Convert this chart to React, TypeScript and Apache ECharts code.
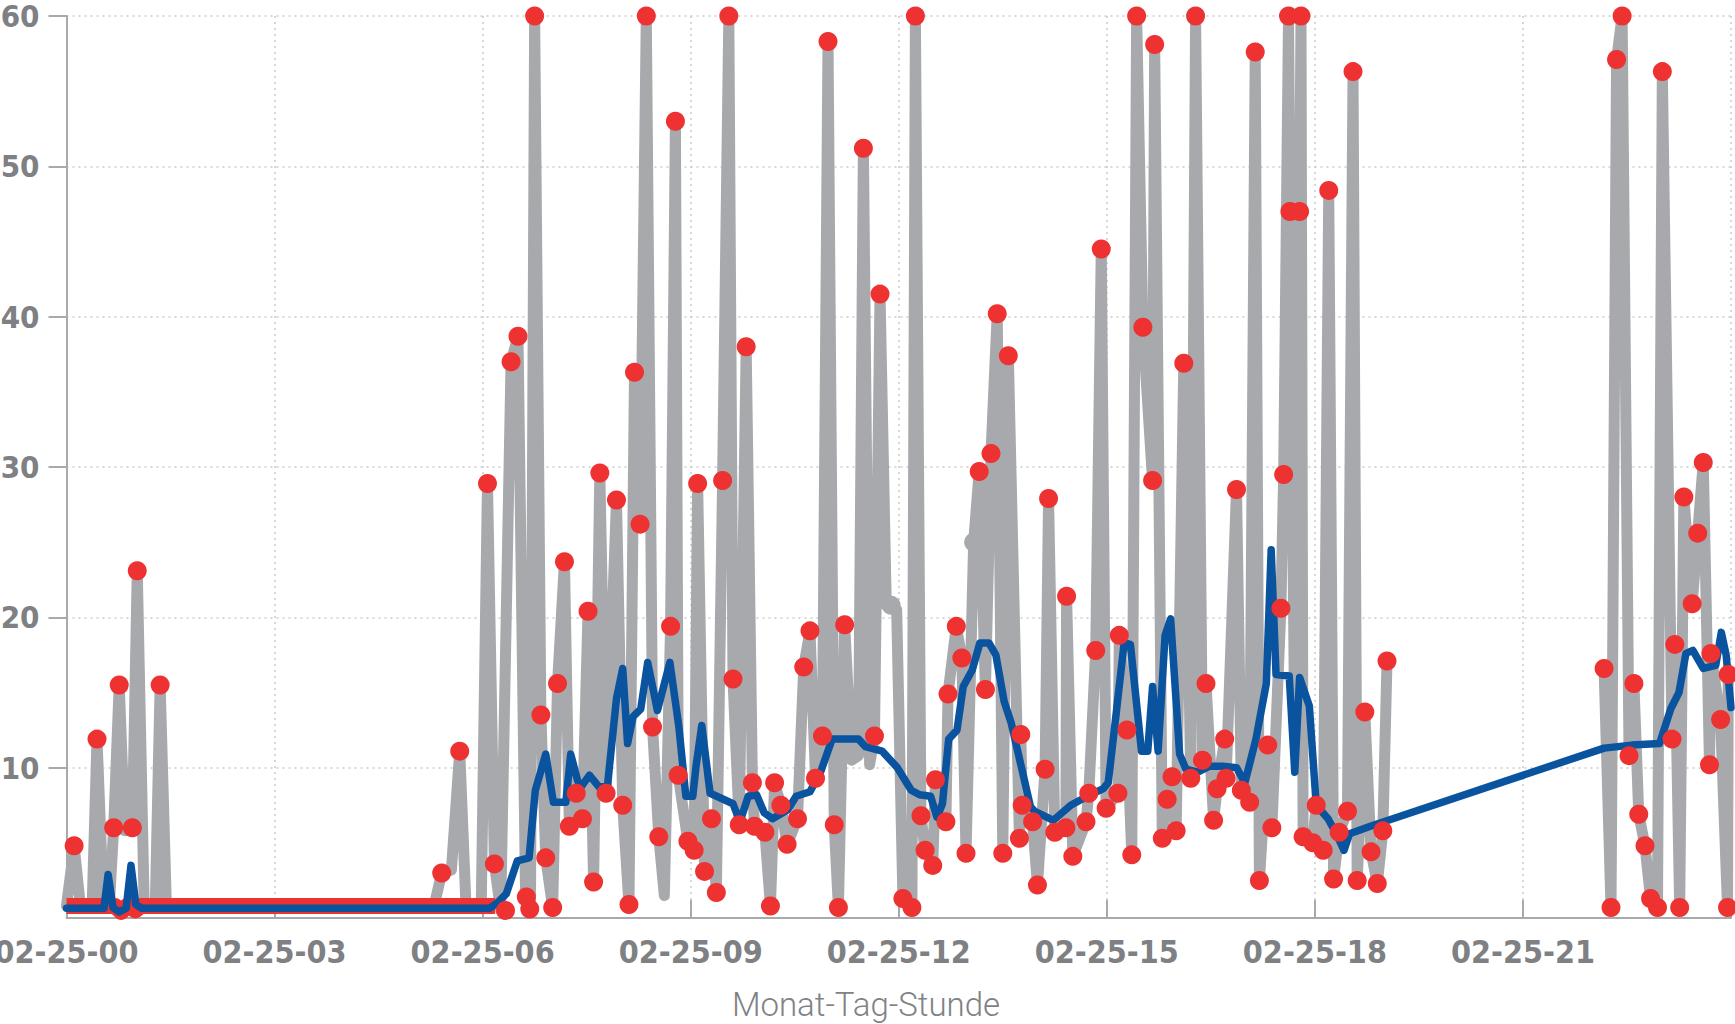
import React, { useEffect, useRef } from "react";
import * as echarts from "echarts";

// ---------- data ----------
const xTickLabels = ["02-25-00", "02-25-03", "02-25-06", "02-25-09", "02-25-12", "02-25-15", "02-25-18", "02-25-21"];
const xAxisName = "Monat-Tag-Stunde";

// gray measurement line (hour of day, value); null = gap
const grayHours = [
  0, 0.11, 0.2, 0.37, 0.44, 0.53, 0.62, 0.68, 0.76, 0.84, 0.95, 1.02, 1.12, 1.28, 1.35, 1.44,
  5.3, 5.41, 5.55, 5.67, 5.76, 5.98, 6.07, 6.17, 6.26, 6.41, 6.51, 6.62, 6.69, 6.75, 6.84, 6.91,
  7.01, 7.08, 7.18, 7.25, 7.35, 7.44, 7.52, 7.6, 7.69, 7.78, 7.93, 8.02, 8.11, 8.19, 8.27, 8.36,
  8.45, 8.54, 8.62, 8.71, 8.78, 8.82, 8.96, 9.05, 9.1, 9.2, 9.3, 9.37, 9.46, 9.55, 9.61, 9.7,
  9.8, 9.89, 9.92, 10.07, 10.15, 10.21, 10.3, 10.39, 10.54, 10.63, 10.72, 10.8, 10.9, 10.98,
  11.07, 11.13, 11.22, 11.32, 11.42, 11.49, 11.58, 11.65, 11.73, 11.82, 11.97, 12.06, 12.19,
  12.24, 12.32, 12.38, 12.49, 12.53, 12.68, 12.71, 12.83, 12.91, 12.97, 13.08, 13.16, 13.25,
  13.33, 13.42, 13.5, 13.58, 13.74, 13.76, 13.78, 13.93, 14.0, 14.11, 14.16, 14.25, 14.41,
  14.42, 14.51, 14.7, 14.74, 14.84, 14.92, 14.99, 15.16, 15.18, 15.29, 15.36, 15.43, 15.52,
  15.66, 15.69, 15.8, 15.87, 15.94, 16.0, 16.11, 16.21, 16.28, 16.38, 16.43, 16.54, 16.59,
  16.7, 16.72, 16.87, 16.94, 17.06, 17.14, 17.2, 17.32, 17.38, 17.51, 17.55, 17.62, 17.64,
  17.71, 17.78, 17.8, 17.83, 17.97, 18.02, 18.12, 18.2, 18.27, 18.35, 18.47, 18.55, 18.61,
  18.72, 18.81, 18.9, 18.98, 19.04, 20.5, 22.17, 22.27, 22.35, 22.43, 22.53, 22.6, 22.67,
  22.76, 22.84, 22.94, 23.01, 23.15, 23.19, 23.26, 23.32, 23.44, 23.52, 23.6, 23.69, 23.71,
  23.85, 23.95, 23.96,
];
const grayValues = [
  0.8, 4.8, 0.8, 0.8, 11.9, 1.2, 1.0, 6.0, 15.5, 5.8, 6.0, 23.1, 0.8, 0.8, 15.5, 0.8,
  0.8, 3.0, 3.2, 11.1, 0.8, 0.8, 28.9, 3.6, 0.5, 37.0, 38.7, 1.2, 0.6, 60, 13.5, 4.0,
  0.7, 15.6, 23.7, 6.1, 8.3, 6.6, 20.4, 2.4, 29.6, 8.3, 27.8, 7.5, 0.9, 36.3, 26.2, 60,
  12.7, 5.4, 1.5, 19.4, 53.0, 9.5, 5.1, 4.5, 28.9, 3.1, 6.6, 1.7, 29.1, 60, 15.9, 6.2,
  38.0, 9.0, 6.1, 5.7, 0.8, 9.0, 7.5, 4.9, 6.6, 16.7, 19.1, 9.3, 12.1, 58.3,
  6.2, 0.7, 19.5, 10.5, 10.8, 51.2, 10.2, 12.1, 41.5, 20.8, 20.5, 1.3, 0.7,
  60, 6.8, 4.5, 3.5, 9.2, 6.4, 14.9, 19.4, 17.3, 4.3, 25.0, 29.7, 15.2,
  30.9, 40.2, 4.3, 37.4, 5.3, 12.2, 7.5, 6.4, 2.2, 9.9, 27.9, 5.7, 6.0,
  21.4, 4.1, 6.4, 8.3, 17.8, 44.5, 7.3, 8.3, 18.8, 12.5, 4.2, 60, 39.3,
  29.1, 58.1, 5.3, 7.9, 9.4, 5.8, 36.9, 9.3, 60, 10.5, 15.6, 6.5, 8.6,
  11.9, 9.3, 28.5, 8.5, 7.7, 57.6, 2.5, 11.5, 6.0, 20.6, 29.5, 60, 47.0,
  12.0, 47.0, 60, 5.4, 5.0, 7.5, 4.5, 48.4, 2.6, 5.7, 7.1, 56.3, 2.5,
  13.7, 4.4, 2.3, 5.8, 17.1, null, 16.6, 0.7, 57.1, 60, 10.8, 15.6, 6.9,
  4.8, 1.3, 0.7, 56.3, 11.9, 18.2, 0.7, 28.0, 20.9, 25.6, 30.3, 10.2, 17.6,
  13.2, 0.7, 16.2,
];

// gray series markers that are visible
const grayMarkerHours = [11.89, 13.08];
const grayMarkerValues = [20.8, 25.0];

// red sample points
const redHours = [
  0.11, 0.44, 0.68, 0.76, 0.95, 1.02, 1.35, 5.41, 5.67, 6.07, 6.17, 6.33, 6.41, 6.51, 6.63, 6.68,
  6.75, 6.84, 6.91, 7.01, 7.08, 7.18, 7.25, 7.35, 7.44, 7.52, 7.6, 7.69, 7.78, 7.93, 8.02, 8.11,
  8.19, 8.27, 8.36, 8.45, 8.54, 8.71, 8.78, 8.82, 8.96, 9.05, 9.1, 9.2, 9.3, 9.37, 9.46, 9.55,
  9.61, 9.7, 9.8, 9.89, 9.92, 10.07, 10.15, 10.21, 10.3, 10.39, 10.54, 10.63, 10.72, 10.8, 10.9,
  10.98, 11.07, 11.13, 11.22, 11.49, 11.65, 11.73, 12.06, 12.19, 12.24, 12.32, 12.38, 12.49,
  12.53, 12.68, 12.71, 12.83, 12.91, 12.97, 13.16, 13.25, 13.33, 13.42, 13.5, 13.58, 13.74,
  13.76, 13.78, 13.93, 14.0, 14.11, 14.16, 14.25, 14.41, 14.42, 14.51, 14.7, 14.74, 14.84,
  14.92, 14.99, 15.16, 15.18, 15.29, 15.36, 15.43, 15.52, 15.66, 15.69, 15.8, 15.87, 15.94,
  16.0, 16.11, 16.21, 16.28, 16.38, 16.43, 16.54, 16.59, 16.7, 16.72, 16.87, 16.94, 17.06,
  17.14, 17.2, 17.32, 17.38, 17.51, 17.55, 17.62, 17.64, 17.78, 17.8, 17.83, 17.97, 18.02,
  18.12, 18.2, 18.27, 18.35, 18.47, 18.55, 18.61, 18.72, 18.81, 18.9, 18.98, 19.04, 22.17,
  22.27, 22.35, 22.43, 22.53, 22.6, 22.67, 22.76, 22.84, 22.94, 23.01, 23.15, 23.19, 23.26,
  23.32, 23.44, 23.52, 23.6, 23.69, 23.71, 23.85, 23.95, 23.96,
];
const redValues = [
  4.8, 11.9, 6.0, 15.5, 6.0, 23.1, 15.5, 3.0, 11.1, 28.9, 3.6, 0.5, 37.0, 38.7, 1.4, 0.6,
  60, 13.5, 4.0, 0.7, 15.6, 23.7, 6.1, 8.3, 6.6, 20.4, 2.4, 29.6, 8.3, 27.8, 7.5, 0.9,
  36.3, 26.2, 60, 12.7, 5.4, 19.4, 53.0, 9.5, 5.1, 4.5, 28.9, 3.1, 6.6, 1.7, 29.1, 60,
  15.9, 6.2, 38.0, 9.0, 6.1, 5.7, 0.8, 9.0, 7.5, 4.9, 6.6, 16.7, 19.1, 9.3, 12.1,
  58.3, 6.2, 0.7, 19.5, 51.2, 12.1, 41.5, 1.3, 0.7, 60, 6.8, 4.5, 3.5,
  9.2, 6.4, 14.9, 19.4, 17.3, 4.3, 29.7, 15.2, 30.9, 40.2, 4.3, 37.4, 5.3,
  12.2, 7.5, 6.4, 2.2, 9.9, 27.9, 5.7, 6.0, 21.4, 4.1, 6.4, 8.3, 17.8,
  44.5, 7.3, 8.3, 18.8, 12.5, 4.2, 60, 39.3, 29.1, 58.1, 5.3, 7.9, 9.4,
  5.8, 36.9, 9.3, 60, 10.5, 15.6, 6.5, 8.6, 11.9, 9.3, 28.5, 8.5, 7.7,
  57.6, 2.5, 11.5, 6.0, 20.6, 29.5, 60, 47.0, 47.0, 60, 5.4, 5.0, 7.5,
  4.5, 48.4, 2.6, 5.7, 7.1, 56.3, 2.5, 13.7, 4.4, 2.3, 5.8, 17.1, 16.6,
  0.7, 57.1, 60, 10.8, 15.6, 6.9, 4.8, 1.3, 0.7, 56.3, 11.9, 18.2, 0.7,
  28.0, 20.9, 25.6, 30.3, 10.2, 17.6, 13.2, 0.7, 16.2,
];

// red baseline at night
const redLineHours = [0, 0.7, 0.79, 0.87, 0.92, 0.99, 1.07, 6.18];
const redLineValues = [0.8, 0.8, 0.4, 0.8, 0.8, 0.5, 0.8, 0.8];

// blue moving average
const blueHours = [
  0, 0.54, 0.6, 0.67, 0.76, 0.86, 0.93, 1.0, 1.08, 6.1, 6.2, 6.34, 6.5, 6.67, 6.76, 6.91, 7.02,
  7.2, 7.27, 7.4, 7.54, 7.68, 7.8, 7.93, 8.02, 8.09, 8.17, 8.28, 8.38, 8.52, 8.7, 8.83, 8.93,
  9.03, 9.08, 9.16, 9.28, 9.47, 9.61, 9.71, 9.83, 9.95, 10.06, 10.18, 10.4, 10.52, 10.72, 10.88,
  11.04, 11.42, 11.52, 11.76, 11.98, 12.18, 12.3, 12.46, 12.55, 12.63, 12.72, 12.84, 12.93,
  13.06, 13.17, 13.3, 13.4, 13.52, 13.62, 13.72, 13.9, 13.96, 14.23, 14.48, 14.72, 14.95, 15.02,
  15.12, 15.25, 15.34, 15.5, 15.59, 15.66, 15.74, 15.84, 15.92, 16.05, 16.14, 16.31, 16.48,
  16.67, 16.87, 16.99, 17.15, 17.3, 17.37, 17.44, 17.63, 17.71, 17.78, 17.92, 18.02, 18.19,
  18.32, 18.42, 18.5, 18.8, 22.17, 22.57, 22.97, 23.13, 23.25, 23.35, 23.45, 23.6, 23.78,
  23.86, 23.93, 24.0,
];
const blueValues = [
  0.65, 0.65, 2.9, 0.7, 0.4, 0.65, 3.5, 0.9, 0.65, 0.65, 0.95, 1.6, 3.8, 4.0, 8.5, 10.9, 7.7,
  7.7, 10.9, 8.6, 9.5, 8.7, 8.8, 14.6, 16.6, 11.6, 13.4, 13.9, 17.0, 13.8, 17.0, 12.7, 8.1,
  8.1, 10.2, 12.8, 8.3, 7.9, 7.6, 6.4, 8.1, 8.2, 7.0, 6.6, 7.2, 8.1, 8.4, 9.8,
  11.9, 11.9, 11.4, 11.1, 10.0, 8.5, 8.2, 8.1, 6.7, 7.6, 11.9, 12.5, 15.4,
  16.5, 18.3, 18.3, 17.5, 14.4, 13.0, 11.0, 7.4, 7.1, 6.5, 7.5, 8.1, 8.6, 9.0,
  13.0, 18.3, 18.2, 11.1, 11.1, 15.4, 11.1, 18.8, 19.9, 10.9, 9.9, 9.7, 10.1,
  10.1, 10.0, 9.0, 11.9, 15.6, 24.5, 16.2, 16.1, 9.7, 16.0, 14.1, 7.5, 6.6,
  5.5, 4.5, 5.6, 6.1, 11.3, 11.5, 11.6, 13.9, 15.0, 17.6, 17.8, 16.6, 16.8,
  19.0, 17.5, 14.0,
];

// ---------- helpers ----------
const pairs = (xs: number[], ys: (number | null)[]) =>
  xs.map((x, i) => [x, ys[i] === null ? "-" : ys[i]]);

const LABEL_FONT = '"DejaVu Sans Condensed", "DejaVu Sans", "Liberation Sans Narrow", sans-serif';
const AXIS_GRAY = "#a7a9ac";
const TEXT_GRAY = "#7e8083";
const RED = "#ee3131";

export default function App() {
  const ref = useRef<HTMLDivElement>(null);

  useEffect(() => {
    document.body.style.margin = "0";
    if (!ref.current) return;
    const chart = echarts.init(ref.current, null, { renderer: "svg" });
    chart.setOption({
      animation: false,
      backgroundColor: "#ffffff",
      grid: { left: 66.5, right: 4, top: 16, bottom: 106, containLabel: false, outerBoundsMode: "none" },
      xAxis: {
        type: "value",
        min: 0,
        max: 24,
        interval: 3,
        axisLine: { show: true, onZero: false, lineStyle: { color: AXIS_GRAY, width: 2 } },
        axisTick: { show: true, inside: true, length: 18, lineStyle: { color: AXIS_GRAY, width: 2 } },
        axisLabel: {
          formatter: (v: number) => xTickLabels[Math.round(v / 3)] ?? "",
          color: TEXT_GRAY,
          fontFamily: LABEL_FONT,
          fontWeight: "bold",
          fontSize: 32,
          lineHeight: 30,
          margin: 18.5,
          hideOverlap: false,
        },
        splitLine: { show: true, lineStyle: { color: "#c9cacc", type: [2, 4], width: 1.5 } },
      },
      yAxis: {
        type: "value",
        min: 0,
        max: 60,
        interval: 10,
        axisLine: { show: true, lineStyle: { color: AXIS_GRAY, width: 2 } },
        axisTick: { show: true, inside: false, length: 18, lineStyle: { color: AXIS_GRAY, width: 2 } },
        axisLabel: {
          showMinLabel: false,
          color: TEXT_GRAY,
          fontFamily: LABEL_FONT,
          fontWeight: "bold",
          fontSize: 31,
          lineHeight: 26,
          margin: 27,
        },
        splitLine: { show: true, lineStyle: { color: "#c9cacc", type: [2, 4], width: 1.5 } },
      },
      graphic: [
        {
          type: "text",
          x: 866,
          y: 1004,
          style: {
            text: xAxisName,
            fill: "#808285",
            fontFamily: "Roboto, 'Open Sans', sans-serif",
            fontWeight: 300,
            fontSize: 33,
            align: "center",
            verticalAlign: "middle",
          },
        },
      ],
      series: [
        {
          name: "Messwerte",
          type: "line",
          data: pairs(grayHours, grayValues),
          showSymbol: false,
          symbol: "none",
          connectNulls: false,
          z: 1,
          lineStyle: { color: "#a7a9ac", width: 11, join: "round", cap: "round" },
        },
        {
          name: "Messwerte Marker",
          type: "scatter",
          data: pairs(grayMarkerHours, grayMarkerValues),
          symbolSize: 19,
          z: 1,
          itemStyle: { color: "#a7a9ac", opacity: 1 },
        },
        {
          name: "Basis",
          type: "line",
          data: pairs(redLineHours, redLineValues),
          symbol: "none",
          z: 2,
          lineStyle: { color: RED, width: 16, join: "round", cap: "butt" },
        },
        {
          name: "Mittelwert",
          type: "line",
          data: pairs(blueHours, blueValues),
          symbol: "none",
          z: 3,
          lineStyle: { color: "#0a539f", width: 7.5, join: "round", cap: "round" },
        },
        {
          name: "Stichproben",
          type: "scatter",
          data: pairs(redHours, redValues),
          symbolSize: 19,
          z: 4,
          clip: false,
          itemStyle: { color: RED, opacity: 1 },
        },
      ],
    });
    return () => chart.dispose();
  }, []);

  return (
    <div
      ref={ref}
      style={{ position: "fixed", left: 0, top: 0, width: 1735, height: 1024, background: "#fff" }}
    />
  );
}
